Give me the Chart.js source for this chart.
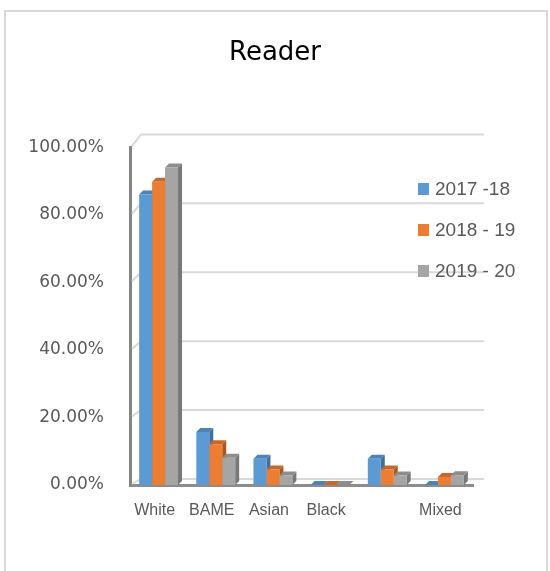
<!DOCTYPE html>
<html>
<head>
<meta charset="utf-8">
<script src="https://cdn.jsdelivr.net/npm/chart.js@4.4.1/dist/chart.umd.min.js"></script>
<style>
    html, body { margin: 0; padding: 0; background: #fff; }
    #marco { position: absolute; left: 4px; top: 10px; width: 540px; height: 600px; border: 2px solid #d9d9d9; border-bottom: none; }
    #caja { position: absolute; left: 0; top: 0; width: 550px; height: 571px; }
</style>
</head>
<body>
<div id="marco"></div>
<div id="caja"><canvas id="grafico"></canvas></div>
<script>
// datos
const categorias = ["White", "BAME", "Asian", "Black", "", "Mixed"];
const periodos = ["2017 -18", "2018 - 19", "2019 - 20"];
const valores1718 = [86, 15.7, 7.8, 0, 7.8, 0];
const valores1819 = [89.8, 12.1, 4.6, 0, 4.6, 2.4];
const valores1920 = [94, 8.1, 2.8, 0, 2.8, 2.9];
const marcasY = [0, 20, 40, 60, 80, 100];

// estilos
const colores = ["#5b9bd5", "#ed7d31", "#a5a5a5"];
const coloresLado = ["#3f6f9e", "#a95821", "#787878"];
const coloresTapa = ["#4a84ba", "#c8672a", "#8d8d8d"];
const fondo = 4;

// pared del fondo y caras 3D de las barras
const efecto3D = {
    id: "efecto3D",
    beforeDatasetsDraw(chart) {
        const { ctx, chartArea: a, scales: { y } } = chart;
        const base = y.getPixelForValue(0);
        ctx.save();
        ctx.strokeStyle = "#d9d9d9";
        ctx.lineWidth = 2;
        marcasY.forEach(v => {
            const yf = y.getPixelForValue(v);
            const yb = base - 6 + (yf - base) * 1.02;
            ctx.beginPath();
            ctx.moveTo(a.left + 2, yf - 1);
            ctx.lineTo(a.left + 11, yb);
            ctx.lineTo(a.right + 11, yb);
            ctx.stroke();
        });

        const barras = chart.data.datasets.map((ds, i) =>
            chart.getDatasetMeta(i).data.map(b => b.getProps(["x", "y", "base", "width"], true)));

        // caras laterales
        barras.forEach((lista, i) => {
            ctx.fillStyle = coloresLado[i];
            lista.forEach(b => {
                const r = b.x + b.width / 2;
                ctx.beginPath();
                ctx.moveTo(r, b.y);
                ctx.lineTo(r + fondo, b.y - fondo);
                ctx.lineTo(r + fondo, b.base - fondo);
                ctx.lineTo(r, b.base);
                ctx.closePath();
                ctx.fill();
            });
        });
        // tapas
        barras.forEach((lista, i) => {
            ctx.fillStyle = coloresTapa[i];
            lista.forEach(b => {
                const l = b.x - b.width / 2;
                const r = b.x + b.width / 2;
                ctx.beginPath();
                ctx.moveTo(l, b.y);
                ctx.lineTo(l + fondo, b.y - fondo);
                ctx.lineTo(r + fondo, b.y - fondo);
                ctx.lineTo(r, b.y);
                ctx.closePath();
                ctx.fill();
            });
        });
        ctx.restore();
    }
};

const leyenda = {
    id: "leyenda",
    afterDraw(chart) {
        const { ctx } = chart;
        ctx.save();
        ctx.font = "19px 'Liberation Sans'";
        ctx.textBaseline = "middle";
        chart.data.datasets.forEach((ds, i) => {
            const yc = 189 + i * 41;
            ctx.fillStyle = ds.backgroundColor;
            ctx.fillRect(418, yc - 6, 11, 12);
            ctx.fillStyle = "#595959";
            ctx.fillText(ds.label, 435, yc + 1);
        });
        ctx.restore();
    }
};

new Chart(document.getElementById("grafico"), {
    type: "bar",
    data: {
        labels: categorias,
        datasets: [
            { label: periodos[0], data: valores1718, backgroundColor: colores[0] },
            { label: periodos[1], data: valores1819, backgroundColor: colores[1] },
            { label: periodos[2], data: valores1920, backgroundColor: colores[2] }
        ]
    },
    options: {
        responsive: true,
        maintainAspectRatio: false,
        animation: false,
        datasets: { bar: { barPercentage: 1, categoryPercentage: 0.68, borderWidth: 0 } },
        layout: { padding: 0 },
        plugins: {
            legend: { display: false },
            tooltip: { enabled: false },
            title: {
                display: true,
                text: "Reader",
                color: "#000",
                font: { family: "DejaVu Sans", size: 26, weight: "normal" },
                padding: { top: 38, bottom: 78 }
            }
        },
        scales: {
            x: {
                grid: { display: false },
                border: { display: true, color: "#8c8c8c", width: 3 },
                ticks: {
                    color: "#595959",
                    font: { family: "Liberation Sans", size: 16 },
                    padding: 8,
                    labelOffset: -4,
                    autoSkip: false,
                    maxRotation: 0
                },
                afterFit(s) { s.height = 86; }
            },
            y: {
                min: 0,
                max: 100,
                grid: { display: false },
                border: { display: true, color: "#858585", width: 3 },
                ticks: {
                    stepSize: 20,
                    padding: 18,
                    color: "#595959",
                    font: { family: "DejaVu Sans", size: 17 },
                    callback: v => v.toFixed(2) + "%"
                },
                afterFit(s) { s.width = 130; }
            },
            margenDerecho: {
                type: "linear",
                position: "right",
                display: true,
                grid: { display: false },
                border: { display: false },
                ticks: { display: false },
                afterFit(s) { s.width = 77; }
            }
        }
    },
    plugins: [efecto3D, leyenda]
});
</script>
</body>
</html>
